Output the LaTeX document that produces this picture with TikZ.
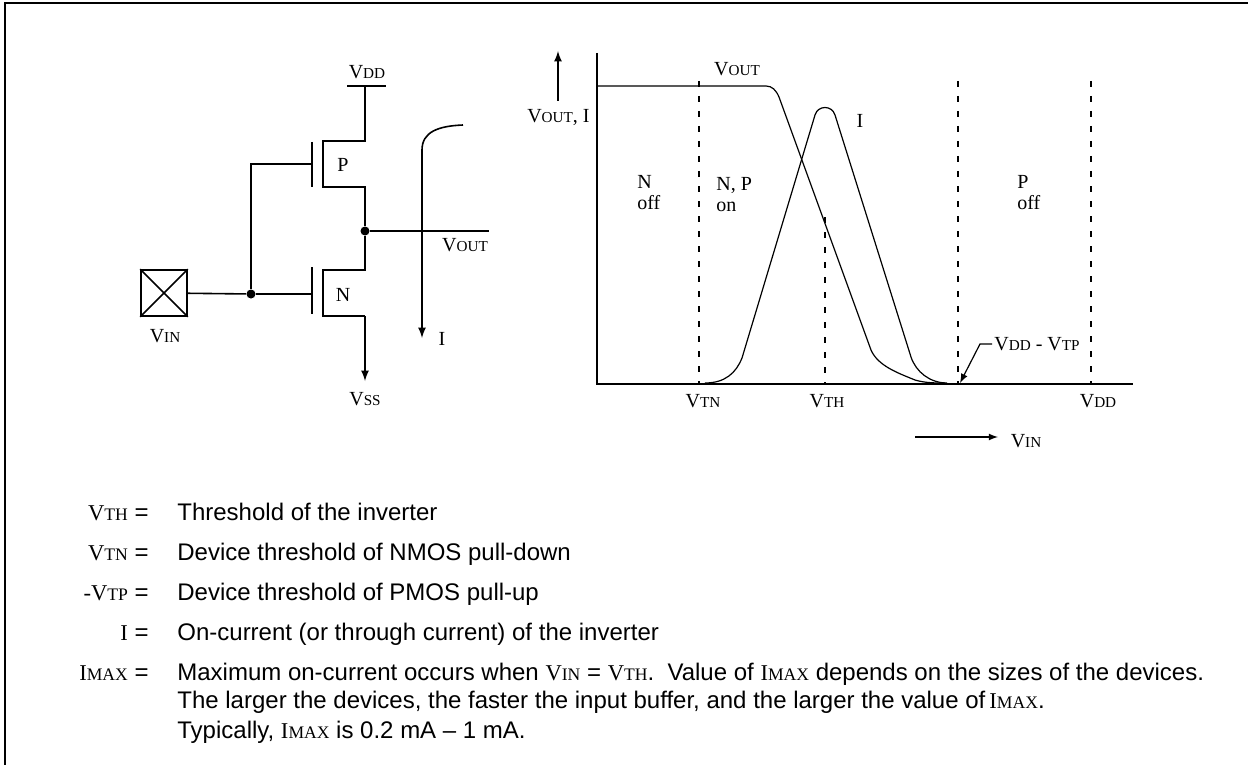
\documentclass[tikz,border=0pt]{standalone}
\usepackage{fontspec}
\setmainfont{Liberation Serif}
\setsansfont{Liberation Sans}
\usepackage{tikz}
\tikzset{>=latex}
\usetikzlibrary{arrows,calc}
\newcommand{\vlab}[2]{{\rmfamily #1{\fontsize{7.6}{9}\selectfont #2}}}
\newcommand{\vkey}[2]{{\rmfamily\fontsize{11.3}{13}\selectfont #1{\fontsize{8.8}{10}\selectfont #2}}}
\tikzstyle{wire}   = [line width=0.8pt]
\tikzstyle{curve}  = [line width=0.6pt]
\tikzstyle{dot}    = [circle,fill,inner sep=0pt,minimum size=4.5pt]
\tikzstyle{lab}    = [inner sep=1pt,font=\fontsize{10}{10.5}\selectfont]
\tikzstyle{txt}    = [inner sep=0pt,font=\sffamily\fontsize{12}{15}\selectfont]
\tikzstyle{region} = [dash pattern=on 3pt off 4.5pt,line width=0.75pt]

\begin{document}
\begin{tikzpicture}[x=0.5pt,y=-0.5pt]
	\useasboundingbox (0,0) rectangle (1248,765);
	\draw[line width=1.3pt] (5,765) -- (5,3) -- (1248,3);
	
	% inverter
	\node[lab] (vdd) at (367,72) {\vlab{V}{DD}};
	\coordinate (vddl) at (347,86);
	\coordinate (vddr) at (386,86);
	\coordinate (vddm) at (365,86);
	\coordinate (pd) at (365,141);
	\coordinate (ps) at (365,187);
	\coordinate (nd) at (365,270);
	\coordinate (ns) at (365,316);
	\coordinate (vssend) at (365,381);
	\node[dot] (out) at (365,231) {};
	\draw[wire] (vddl) -- (vddr);
	\draw[wire] (vddm) -- (pd) -- ++(-42,0) -- ++(0,46) -- (ps) -- (out) -- (nd) -- ++(-42,0) -- ++(0,46) -- (ns);
	\draw[wire,->] (ns) -- (vssend);
	\node[lab] (vss) at (365,399) {\vlab{V}{SS}};
	
	\draw[wire] (312,142) -- (312,187);
	\draw[wire] (312,267) -- (312,314);
	\coordinate (pg) at (312,164);
	\coordinate (ng) at (312,294);
	\node[dot] (gj) at (251,294) {};
	\draw[wire] (pg) -| (gj) -- (ng);
	\node[lab] (p) at (343,165) {P};
	\node[lab] (n) at (343,295) {N};
	
	\node[draw,wire,minimum width=23pt,minimum height=23pt,inner sep=0pt] (pad) at (164,293) {};
	\draw[wire] (pad.north west) -- (pad.south east) (pad.north east) -- (pad.south west);
	\draw[wire] (pad) -- (gj);
	\node[lab] (vin) at (165,336) {\vlab{V}{IN}};
	
	\coordinate (outend) at (489,231);
	\draw[wire] (out) -- (outend);
	\node[lab] (vout) at (465,245) {\vlab{V}{OUT}};
	
	\coordinate (itop) at (463,125);
	\coordinate (ibot) at (422,338);
	\draw[wire,->] (itop) .. controls (438,126) and (422,132) .. (422,150) -- (ibot);
	\node[lab] (ilab) at (442,339) {I};
	
	% transfer curve
	\coordinate (orig) at (597,384);
	\coordinate (ytop) at (597,53);
	\coordinate (xend) at (1133,384);
	\draw[wire] (ytop) -- (orig) -- (xend);
	\coordinate (ya) at (558,101);
	\coordinate (yb) at (558,51);
	\draw[wire,->] (ya) -- (yb);
	\node[lab,anchor=east] (ylab) at (592,117) {\vlab{V}{OUT}, I};
	
	\draw[curve] (597,86) -- (766,86) .. controls (772,86) and (776,90) .. (779,97) -- (871,350) .. controls (878,366) and (898,373) .. (915,380) .. controls (925,383) and (935,383) .. (945,383);
	\draw[curve] (705,383) .. controls (725,383) and (736,373) .. (742,358) -- (815,115) .. controls (818,105) and (832,105) .. (835,115) -- (911,357) .. controls (916,372) and (930,383) .. (947,383);
	\node[lab] (voutc) at (737,69) {\vlab{V}{OUT}};
	\node[lab] (ic) at (860,121) {I};
	
	\draw[region] (699,81) -- (699,384);
	\draw[region] (825,217) -- (825,384);
	\draw[region] (958,81) -- (958,384);
	\draw[region] (1091,81) -- (1091,384);
	
	\node[lab,anchor=west,align=left] (noff) at (635,193) {N\\off};
	\node[lab,anchor=west,align=left] (npon) at (714,195) {N, P\\on};
	\node[lab,anchor=west,align=left] (poff) at (1015,193) {P\\off};
	
	\node[lab] (vtn) at (703,401) {\vlab{V}{TN}};
	\node[lab] (vth) at (827,401) {\vlab{V}{TH}};
	\node[lab] (vddx) at (1098,401) {\vlab{V}{DD}};
	
	\node[lab,anchor=west] (vtp) at (992,344) {\vlab{V}{DD} - \vlab{V}{TP}};
	\coordinate (vtpk) at (980,344);
	\coordinate (vtpend) at (960,383);
	\draw[curve,->] (vtp.west) -- (vtpk) -- (vtpend);
	
	\coordinate (xa) at (915,437);
	\coordinate (xb) at (998,437);
	\draw[curve,->] (xa) -- (xb);
	\node[lab] (vinx) at (1026,441) {\vlab{V}{IN}};
	
	% legend
	\node[txt,anchor=base east] (k1) at (149,520) {\vkey{V}{TH} =};
	\node[txt,anchor=base west] (d1) at (177,520) {Threshold of the inverter};
	\node[txt,anchor=base east] (k2) at (149,560) {\vkey{V}{TN} =};
	\node[txt,anchor=base west] (d2) at (177,560) {Device threshold of NMOS pull-down};
	\node[txt,anchor=base east] (k3) at (149,600) {{\rmfamily\fontsize{11.3}{13}\selectfont -}\vkey{V}{TP} =};
	\node[txt,anchor=base west] (d3) at (177,600) {Device threshold of PMOS pull-up};
	\node[txt,anchor=base east] (k4) at (149,640) {{\rmfamily\fontsize{11.3}{13}\selectfont I} =};
	\node[txt,anchor=base west] (d4) at (177,640) {On-current (or through current) of the inverter};
	\node[txt,anchor=base east] (k5) at (149,680) {\vkey{I}{MAX} =};
	\node[txt,anchor=base west] (d5) at (177,680) {Maximum on-current occurs when \vkey{V}{IN} = \vkey{V}{TH}.\ \ Value of \vkey{I}{MAX} depends on the sizes of the devices.};
	\node[txt,anchor=base west] (d6) at (177,708) {The larger the devices, the faster the input buffer, and the larger the value of\,\vkey{I}{MAX}.};
	\node[txt,anchor=base west] (d7) at (177,738) {Typically, \vkey{I}{MAX} is 0.2 mA – 1 mA.};
\end{tikzpicture}
\end{document}
